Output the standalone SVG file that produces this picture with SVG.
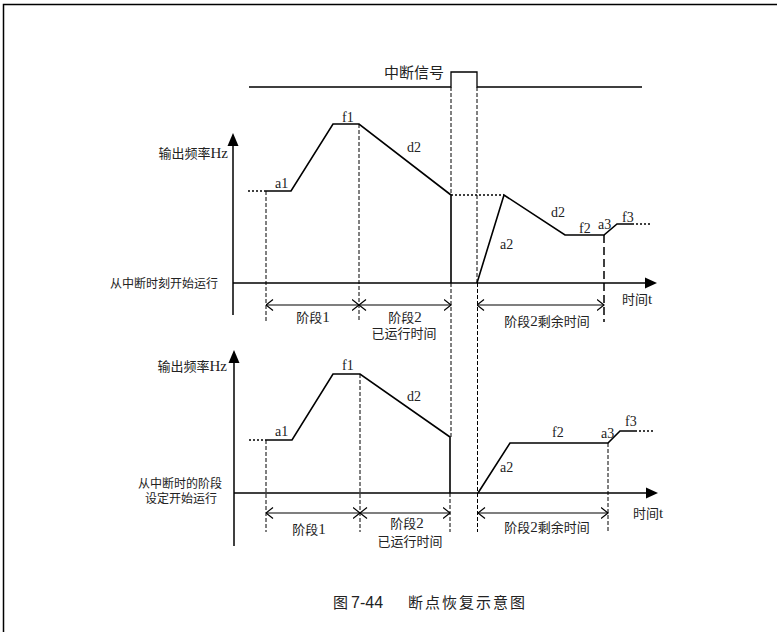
<svg xmlns="http://www.w3.org/2000/svg" width="777" height="632" viewBox="0 0 777 632">
<style>
.frame{fill:none;stroke:#000;stroke-width:1.5}
.ln{fill:none;stroke:#000;stroke-width:1.6;stroke-linejoin:miter}
.ax{fill:none;stroke:#000;stroke-width:1.5}
.dash{fill:none;stroke:#000;stroke-width:1;stroke-dasharray:4 2}
.ldash{fill:none;stroke:#000;stroke-width:1.5;stroke-dasharray:8 4}
.dot{fill:none;stroke:#000;stroke-width:1.5;stroke-dasharray:2 2}
.dim{fill:none;stroke:#000;stroke-width:1.2;marker-start:url(#chev);marker-end:url(#chev)}
.t{font-family:"Liberation Serif","Noto Sans CJK SC",serif;fill:#222}
.s12{font-size:12px}.s13{font-size:13px}.s14{font-size:14px}.s15{font-size:15px}
.L{font-size:15px}
.cap{font-family:"Liberation Sans","Noto Sans CJK SC",sans-serif;font-size:15px;fill:#222}
</style>
<defs>
<marker id="chev" viewBox="0 0 8 12" refX="7.5" refY="6" markerWidth="8" markerHeight="12" markerUnits="userSpaceOnUse" orient="auto-start-reverse">
<path d="M0.5,0.5 L7.5,6 L0.5,11.5" fill="none" stroke="#000" stroke-width="1.2"/>
</marker>
</defs>
<path class="frame" d="M3.5,640 V4.5 H790"/>

<g id="signal">
<path class="ln" d="M249,87 H451 V72 H477 V87 H642" style="stroke-width:1.3"/>
<text class="t s15" x="384" y="77.5">中断信号</text>
</g>

<g id="guides">
<path class="dash" d="M451,87 V195"/>
<path class="dash" d="M451,283 V437"/>
<path class="dash" d="M450,493 V532"/>
<path class="dash" d="M477,87 V283"/>
<path class="dash" d="M477.5,283 V532"/>
<path class="dash" d="M266,191 V322"/>
<path class="dash" d="M359,124 V322"/>
<path class="ldash" d="M604,235 V322"/>
<path class="dash" d="M266,440 V532"/>
<path class="dash" d="M360,374 V532"/>
<path class="dash" d="M608,443 V532"/>
</g>

<g id="top-plot">
<path class="ax" d="M233,140 V315"/>
<polygon points="233,133 227.5,146 238.5,146" fill="#000"/>
<path class="ax" d="M233,283 H650"/>
<polygon points="657,283 645,277.5 645,288.5" fill="#000"/>
<text class="t s13" x="228" y="158" text-anchor="end">输出频率<tspan class="L">Hz</tspan></text>
<text class="t s12" x="218" y="287.5" text-anchor="end">从中断时刻开始运行</text>
<text class="t s13" x="622" y="304">时间<tspan class="L">t</tspan></text>

<path class="dot" d="M248,191 H266"/>
<path class="ln" d="M266,191 H291 L333,124 H359 L451,195 V283"/>
<path class="dot" d="M451,195 H504"/>
<path class="ln" d="M477,283 L504,195 L565,235 H604 L617,224 H632"/>
<path class="dot" d="M632,224 H650"/>

<text class="t s14" x="275" y="187.5">a1</text>
<text class="t s14" x="342" y="121.5">f1</text>
<text class="t s14" x="407" y="151.5">d2</text>
<text class="t s14" x="500" y="248.5">a2</text>
<text class="t s14" x="551" y="217">d2</text>
<text class="t s14" x="579" y="233">f2</text>
<text class="t s14" x="598" y="229">a3</text>
<text class="t s14" x="622" y="222">f3</text>

<path class="dim" d="M266,305 H359"/>
<path class="dim" d="M359,305 H451"/>
<path class="dim" d="M477,305 H604"/>
<text class="t s13" x="313" y="322" text-anchor="middle">阶段<tspan class="L">1</tspan></text>
<text class="t s13" x="405" y="322" text-anchor="middle">阶段<tspan class="L">2</tspan></text>
<text class="t s13" x="404" y="337.5" text-anchor="middle">已运行时间</text>
<text class="t s13" x="547" y="326" text-anchor="middle">阶段<tspan class="L">2</tspan>剩余时间</text>
</g>

<g id="bottom-plot">
<path class="ax" d="M234,357 V546"/>
<polygon points="234,350 228.5,363 239.5,363" fill="#000"/>
<path class="ax" d="M234,493 H651"/>
<polygon points="658,493 646,487.5 646,498.5" fill="#000"/>
<text class="t s13" x="227" y="371" text-anchor="end">输出频率<tspan class="L">Hz</tspan></text>
<text class="t s12" x="180" y="488" text-anchor="middle">从中断时的阶段</text>
<text class="t s12" x="181" y="503" text-anchor="middle">设定开始运行</text>
<text class="t s13" x="633" y="518">时间<tspan class="L">t</tspan></text>

<path class="dot" d="M249,440 H266"/>
<path class="ln" d="M266,440 H292 L333,374 H360 L450,437 V493"/>
<path class="ln" d="M478,493 L510,443 H608 L620,431 H635"/>
<path class="dot" d="M635,431 H653"/>

<text class="t s14" x="275" y="436">a1</text>
<text class="t s14" x="342" y="370">f1</text>
<text class="t s14" x="407" y="401">d2</text>
<text class="t s14" x="500" y="472">a2</text>
<text class="t s14" x="552" y="437">f2</text>
<text class="t s14" x="601" y="438">a3</text>
<text class="t s14" x="625" y="426">f3</text>

<path class="dim" d="M266,513 H360"/>
<path class="dim" d="M360,513 H450"/>
<path class="dim" d="M478,513 H608"/>
<text class="t s13" x="309" y="534" text-anchor="middle">阶段<tspan class="L">1</tspan></text>
<text class="t s13" x="407" y="528" text-anchor="middle">阶段<tspan class="L">2</tspan></text>
<text class="t s13" x="410" y="546" text-anchor="middle">已运行时间</text>
<text class="t s13" x="547" y="532" text-anchor="middle">阶段<tspan class="L">2</tspan>剩余时间</text>
</g>

<g id="caption">
<text class="cap" x="333" y="608">图</text>
<text class="cap" x="351" y="608" style="font-size:16px">7-44</text>
<text class="cap" x="408" y="608" textLength="117">断点恢复示意图</text>
</g>
</svg>
